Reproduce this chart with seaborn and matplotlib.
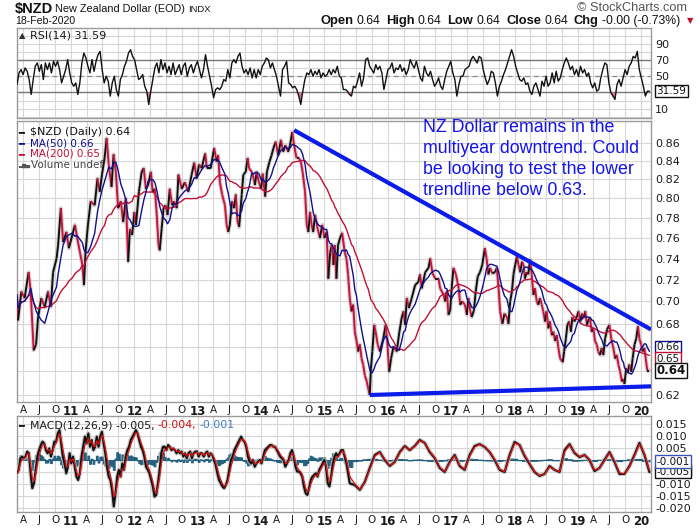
import numpy as np
import pandas as pd
import matplotlib
matplotlib.use("Agg")
import matplotlib.pyplot as plt
import matplotlib.dates as mdates
import matplotlib.ticker as mticker
from matplotlib.collections import LineCollection
from matplotlib.patches import Rectangle
import seaborn as sns

sns.set_theme(style="white")
plt.rcParams["font.family"] = ["DejaVu Sans"]

# ---------------- data ----------------
price_dates = [
    "2010-02-23", "2010-03-01", "2010-03-20", "2010-04-08", "2010-05-01", "2010-05-13", "2010-05-30", "2010-06-13", "2010-06-24", "2010-07-13",
    "2010-08-02", "2010-08-21", "2010-09-06", "2010-09-19", "2010-10-09", "2010-10-18", "2010-11-03", "2010-11-16", "2010-12-05", "2010-12-19",
    "2011-01-08", "2011-01-23", "2011-02-04", "2011-02-21", "2011-03-07", "2011-03-16", "2011-03-25", "2011-04-08", "2011-04-24", "2011-05-17",
    "2011-06-02", "2011-06-15", "2011-06-28", "2011-07-13", "2011-07-25", "2011-08-06", "2011-08-22", "2011-09-03", "2011-09-16", "2011-09-29",
    "2011-10-15", "2011-10-28", "2011-11-13", "2011-11-26", "2011-12-06", "2011-12-19", "2012-01-01", "2012-01-10", "2012-01-27", "2012-02-12",
    "2012-02-24", "2012-03-07", "2012-03-20", "2012-04-05", "2012-04-15", "2012-04-28", "2012-05-09", "2012-05-19", "2012-05-26", "2012-06-06",
    "2012-06-17", "2012-06-29", "2012-07-10", "2012-07-23", "2012-08-05", "2012-08-18", "2012-09-01", "2012-09-11", "2012-09-30", "2012-10-18",
    "2012-11-07", "2012-11-26", "2012-12-11", "2012-12-25", "2013-01-08", "2013-01-23", "2013-02-12", "2013-02-22", "2013-03-16", "2013-04-05",
    "2013-04-19", "2013-04-28", "2013-05-08", "2013-05-21", "2013-06-06", "2013-06-16", "2013-06-25", "2013-07-04", "2013-07-17", "2013-07-29",
    "2013-08-08", "2013-08-18", "2013-08-27", "2013-09-11", "2013-09-20", "2013-10-04", "2013-10-15", "2013-10-23", "2013-11-08", "2013-11-19",
    "2013-11-26", "2013-12-06", "2013-12-19", "2014-01-01", "2014-01-10", "2014-01-24", "2014-02-03", "2014-02-18", "2014-03-02", "2014-03-13",
    "2014-03-26", "2014-04-09", "2014-04-25", "2014-05-08", "2014-05-21", "2014-06-06", "2014-06-16", "2014-06-29", "2014-07-10", "2014-07-24",
    "2014-08-07", "2014-08-18", "2014-08-28", "2014-09-11", "2014-09-21", "2014-09-30", "2014-10-10", "2014-10-19", "2014-10-28", "2014-11-08",
    "2014-11-23", "2014-12-06", "2014-12-19", "2015-01-01", "2015-01-14", "2015-01-23", "2015-02-03", "2015-02-12", "2015-02-22", "2015-03-02",
    "2015-03-11", "2015-03-20", "2015-04-01", "2015-04-13", "2015-04-28", "2015-05-08", "2015-05-17", "2015-05-27", "2015-06-06", "2015-06-16",
    "2015-06-25", "2015-07-05", "2015-07-14", "2015-07-24", "2015-08-03", "2015-08-12", "2015-08-22", "2015-09-02", "2015-09-11", "2015-09-19",
    "2015-09-26", "2015-10-04", "2015-10-15", "2015-10-23", "2015-11-04", "2015-11-17", "2015-12-06", "2015-12-20", "2015-12-29", "2016-01-09",
    "2016-01-20", "2016-02-03", "2016-02-22", "2016-03-07", "2016-03-21", "2016-04-01", "2016-04-10", "2016-04-20", "2016-05-02", "2016-05-18",
    "2016-06-07", "2016-06-26", "2016-07-05", "2016-07-15", "2016-08-04", "2016-08-23", "2016-09-02", "2016-09-15", "2016-10-01", "2016-10-20",
    "2016-10-29", "2016-11-18", "2016-11-27", "2016-12-07", "2016-12-16", "2016-12-26", "2017-01-05", "2017-01-14", "2017-01-28", "2017-02-13",
    "2017-02-22", "2017-03-05", "2017-03-21", "2017-04-01", "2017-04-10", "2017-04-20", "2017-04-29", "2017-05-12", "2017-05-22", "2017-06-03",
    "2017-06-16", "2017-06-29", "2017-07-14", "2017-07-24", "2017-08-03", "2017-08-13", "2017-08-26", "2017-09-11", "2017-09-21", "2017-10-01",
    "2017-10-10", "2017-10-23", "2017-11-04", "2017-11-18", "2017-11-27", "2017-12-07", "2017-12-17", "2017-12-26", "2018-01-05", "2018-01-15",
    "2018-01-24", "2018-02-03", "2018-02-13", "2018-02-22", "2018-03-02", "2018-03-12", "2018-03-21", "2018-04-01", "2018-04-10", "2018-04-20",
    "2018-04-29", "2018-05-09", "2018-05-18", "2018-05-28", "2018-06-07", "2018-06-16", "2018-06-26", "2018-07-05", "2018-07-15", "2018-07-24",
    "2018-08-04", "2018-08-13", "2018-08-23", "2018-09-02", "2018-09-11", "2018-09-21", "2018-10-06", "2018-10-14", "2018-10-24", "2018-11-02",
    "2018-11-12", "2018-11-22", "2018-12-01", "2018-12-12", "2018-12-26", "2019-01-05", "2019-01-15", "2019-01-25", "2019-02-03", "2019-02-13",
    "2019-02-23", "2019-03-02", "2019-03-12", "2019-03-22", "2019-04-01", "2019-04-10", "2019-04-20", "2019-04-29", "2019-05-09", "2019-05-19",
    "2019-05-28", "2019-06-07", "2019-06-19", "2019-07-02", "2019-07-15", "2019-07-25", "2019-08-04", "2019-08-14", "2019-08-23", "2019-09-02",
    "2019-09-12", "2019-09-21", "2019-09-27", "2019-10-07", "2019-10-16", "2019-10-25", "2019-11-05", "2019-11-13", "2019-11-24", "2019-12-04",
    "2019-12-14", "2019-12-22", "2020-01-01", "2020-01-10", "2020-01-20", "2020-01-30", "2020-02-06", "2020-02-18",
]
price_values = [
    0.706, 0.683, 0.709, 0.703, 0.727, 0.709, 0.657, 0.662, 0.685, 0.703,
    0.695, 0.709, 0.695, 0.727, 0.740, 0.753, 0.790, 0.756, 0.766, 0.750,
    0.763, 0.773, 0.761, 0.746, 0.734, 0.715, 0.746, 0.773, 0.797, 0.793,
    0.821, 0.807, 0.825, 0.843, 0.865, 0.836, 0.812, 0.847, 0.828, 0.790,
    0.797, 0.776, 0.800, 0.737, 0.769, 0.763, 0.786, 0.773, 0.807, 0.828,
    0.832, 0.810, 0.814, 0.828, 0.807, 0.810, 0.783, 0.753, 0.748, 0.769,
    0.790, 0.793, 0.783, 0.810, 0.793, 0.797, 0.790, 0.825, 0.810, 0.817,
    0.807, 0.825, 0.838, 0.821, 0.836, 0.832, 0.848, 0.832, 0.832, 0.854,
    0.839, 0.846, 0.817, 0.804, 0.793, 0.773, 0.766, 0.773, 0.797, 0.790,
    0.804, 0.776, 0.771, 0.804, 0.825, 0.828, 0.843, 0.832, 0.828, 0.821,
    0.814, 0.828, 0.817, 0.810, 0.826, 0.802, 0.828, 0.839, 0.846, 0.854,
    0.861, 0.846, 0.863, 0.850, 0.857, 0.850, 0.857, 0.872, 0.857, 0.843,
    0.843, 0.839, 0.828, 0.807, 0.773, 0.766, 0.786, 0.773, 0.766, 0.783,
    0.769, 0.760, 0.773, 0.760, 0.766, 0.721, 0.746, 0.753, 0.734, 0.753,
    0.721, 0.753, 0.760, 0.765, 0.746, 0.740, 0.725, 0.703, 0.691, 0.697,
    0.673, 0.665, 0.656, 0.662, 0.650, 0.645, 0.636, 0.631, 0.625, 0.620,
    0.642, 0.656, 0.679, 0.673, 0.662, 0.656, 0.667, 0.679, 0.665, 0.639,
    0.650, 0.660, 0.656, 0.672, 0.685, 0.691, 0.679, 0.703, 0.694, 0.703,
    0.715, 0.718, 0.725, 0.712, 0.727, 0.731, 0.740, 0.726, 0.721, 0.721,
    0.712, 0.706, 0.700, 0.709, 0.688, 0.692, 0.715, 0.731, 0.725, 0.712,
    0.697, 0.700, 0.697, 0.688, 0.703, 0.692, 0.686, 0.692, 0.709, 0.723,
    0.727, 0.734, 0.750, 0.740, 0.725, 0.731, 0.726, 0.727, 0.731, 0.712,
    0.691, 0.680, 0.689, 0.686, 0.680, 0.700, 0.709, 0.725, 0.734, 0.742,
    0.734, 0.727, 0.737, 0.734, 0.721, 0.727, 0.725, 0.739, 0.725, 0.706,
    0.712, 0.700, 0.697, 0.703, 0.697, 0.691, 0.682, 0.691, 0.676, 0.682,
    0.670, 0.673, 0.665, 0.670, 0.659, 0.650, 0.647, 0.656, 0.667, 0.679,
    0.682, 0.673, 0.686, 0.682, 0.686, 0.691, 0.682, 0.689, 0.685, 0.691,
    0.679, 0.683, 0.685, 0.673, 0.676, 0.665, 0.662, 0.656, 0.653, 0.659,
    0.653, 0.667, 0.675, 0.679, 0.665, 0.659, 0.650, 0.653, 0.645, 0.639,
    0.631, 0.633, 0.629, 0.642, 0.638, 0.645, 0.639, 0.650, 0.662, 0.667,
    0.678, 0.667, 0.662, 0.656, 0.659, 0.647, 0.640, 0.640,
]

rsi_values = [
    39.8, 54.1, 58.2, 52.0, 60.2, 56.1, 45.9, 27.5, 45.9, 62.3, 66.4, 56.1, 64.3, 45.9, 66.4, 58.2, 66.4, 54.1,
    68.4, 62.3, 68.4, 58.2, 41.8, 50.0, 58.2, 70.5, 54.1, 41.8, 37.7, 41.8, 27.5, 41.8, 66.4, 78.6, 72.5, 62.3,
    54.1, 70.5, 56.1, 68.4, 76.6, 80.7, 58.2, 41.8, 50.0, 43.9, 25.5, 41.8, 50.0, 33.6, 25.5, 45.9, 52.0, 62.3,
    68.4, 78.6, 82.7, 74.5, 70.5, 58.2, 45.9, 48.0, 52.0, 37.7, 31.6, 15.2, 31.6, 45.9, 60.2, 66.4, 54.1, 70.5,
    58.2, 66.4, 54.1, 62.3, 52.0, 66.4, 52.0, 58.2, 64.3, 52.0, 62.3, 66.4, 50.0, 60.2, 64.3, 54.1, 62.3, 68.4,
    58.2, 48.0, 58.2, 76.6, 62.3, 50.0, 37.7, 23.4, 33.6, 35.7, 33.6, 37.7, 45.9, 43.9, 58.2, 48.0, 66.4, 70.5,
    66.4, 74.5, 78.6, 62.3, 54.1, 58.2, 52.0, 60.2, 48.0, 58.2, 48.0, 58.2, 52.0, 62.3, 66.4, 72.5, 70.5, 60.2,
    66.4, 58.2, 50.0, 37.7, 25.5, 58.2, 62.3, 68.4, 41.8, 39.8, 35.7, 37.7, 33.6, 25.5, 15.2, 31.6, 45.9, 54.1,
    52.0, 58.2, 50.0, 56.1, 52.0, 58.2, 48.0, 54.1, 50.0, 52.0, 58.2, 52.0, 58.2, 54.1, 62.3, 50.0, 48.0, 33.6,
    33.6, 31.6, 27.5, 25.5, 37.7, 35.7, 43.9, 54.1, 37.7, 48.0, 70.5, 72.5, 62.3, 58.2, 54.1, 64.3, 58.2, 62.3,
    54.1, 33.6, 45.9, 58.2, 60.2, 66.4, 54.1, 60.2, 58.2, 64.3, 56.1, 60.2, 52.0, 58.2, 70.5, 64.3, 60.2, 68.4,
    58.2, 48.0, 43.9, 62.3, 54.1, 50.0, 56.1, 45.9, 37.7, 41.8, 48.0, 37.7, 33.6, 45.9, 56.1, 62.3, 68.4, 54.1,
    45.9, 25.5, 39.8, 50.0, 50.0, 58.2, 60.2, 62.3, 70.5, 74.5, 70.5, 66.4, 74.5, 72.5, 58.2, 48.0, 39.8, 45.9,
    56.1, 54.1, 41.8, 25.5, 37.7, 43.9, 52.0, 58.2, 66.4, 74.5, 82.7, 74.5, 62.3, 54.1, 45.9, 43.9, 48.0, 39.8,
    41.8, 31.6, 27.5, 37.7, 41.8, 33.6, 25.5, 43.9, 37.7, 50.0, 37.7, 41.8, 54.1, 41.8, 56.1, 43.9, 48.0, 58.2,
    66.4, 72.5, 66.4, 58.2, 62.3, 52.0, 58.2, 50.0, 62.3, 54.1, 58.2, 50.0, 54.1, 41.8, 35.7, 41.8, 31.6, 33.6,
    48.0, 58.2, 66.4, 64.3, 41.8, 29.6, 25.5, 21.4, 39.8, 45.9, 37.7, 48.0, 58.2, 52.0, 62.3, 66.4, 74.5, 72.5,
    80.7, 58.2, 48.0, 37.7, 25.5, 31.6, 31.59,
]

macd_values_a = [
    -0.0055, -0.0041, 0.0007, 0.0014, 0.0007, 0.0014, 0.0035, 0.0028, -0.0055, -0.0117,
    -0.0097, -0.0041, 0.0014, 0.0041, 0.0062, 0.0076, 0.0069, 0.0041, 0.0028, 0.0048,
    0.0014, 0.0041, 0.0076, 0.0076, 0.0110, 0.0124, 0.0069, 0.0014, -0.0014, -0.0055,
    -0.0028, 0.0028, -0.0014, 0.0014, -0.0028, -0.0069, -0.0083, -0.0055, 0.0014, 0.0055,
    0.0097, 0.0069, 0.0110, 0.0055, 0.0083, 0.0041, 0.0055, 0.0097, 0.0055, 0.0097,
    0.0117, 0.0069, 0.0028, -0.0028, -0.0069, -0.0083, -0.0124, -0.0193, -0.0138, -0.0069,
    -0.0041, -0.0069, -0.0014, -0.0041, 0.0014, 0.0041, 0.0055, 0.0083, 0.0097, 0.0110,
    0.0124, 0.0110, 0.0083, 0.0055, 0.0041, 0.0014, -0.0028, -0.0041, -0.0055, -0.0083,
    -0.0110, -0.0152, -0.0145, -0.0097, -0.0041, 0.0028, 0.0055, 0.0055, 0.0041, 0.0062,
    0.0055, 0.0041, 0.0048, 0.0041, 0.0028, 0.0041, 0.0028, 0.0035, 0.0014, 0.0028,
    0.0007, 0.0028, 0.0035, 0.0007, 0.0028, 0.0035, 0.0035, 0.0014, 0.0028, 0.0028,
    0.0014, 0.0028, 0.0035, 0.0014, 0.0028, 0.0021, 0.0000, -0.0021, -0.0055, -0.0083,
    -0.0097, -0.0110, -0.0117, -0.0104, -0.0083, -0.0041, 0.0000, 0.0014, 0.0041, 0.0055,
    0.0069, 0.0083, 0.0097, 0.0083, 0.0076, 0.0055, 0.0014, -0.0007, -0.0014, 0.0000,
    -0.0028, -0.0014, -0.0007, 0.0000, -0.0014, 0.0014, 0.0041, 0.0048, 0.0055, 0.0062,
    0.0062, 0.0055, 0.0055, 0.0041, 0.0028, 0.0014, 0.0007, 0.0000, -0.0028, -0.0014,
    0.0000, 0.0028, 0.0041, 0.0014, -0.0028, -0.0048, -0.0048, -0.0055, -0.0069, -0.0110,
    -0.0138, -0.0145, -0.0117, -0.0083, -0.0069, -0.0062, -0.0055, -0.0069, -0.0041, -0.0028,
    -0.0014, 0.0000, -0.0028, -0.0097, -0.0110, -0.0069, -0.0014, 0.0014, 0.0028, 0.0014,
    0.0028, 0.0041, 0.0041, 0.0014, -0.0014, -0.0055, -0.0097,
]
macd_values_b = [
    -0.0104, -0.0124, -0.0091, -0.0033, 0.0021, 0.0033, 0.0000, -0.0025, -0.0008, 0.0033,
    0.0058, 0.0041, 0.0058, 0.0083, 0.0071, 0.0033, 0.0008, -0.0033, -0.0050, -0.0008,
    0.0021, -0.0025, -0.0041, 0.0021, 0.0058, 0.0066, 0.0054, 0.0033, 0.0000, -0.0041,
    -0.0050, 0.0021, 0.0075, 0.0062, 0.0017, -0.0017, -0.0050, -0.0066, -0.0058, -0.0025,
    -0.0041, -0.0050, 0.0041, 0.0066, 0.0029, 0.0012, 0.0021, 0.0000, -0.0046, -0.0033,
    0.0000, 0.0033, -0.0008, -0.0058, -0.0058, -0.0025, 0.0021, 0.0071, 0.0021, -0.0050,
]

upper_trend_dates = ["2014-07-10", "2020-02-27"]
upper_trend_values = [0.874, 0.675]
lower_trend_dates = ["2015-09-20", "2020-02-27"]
lower_trend_values = [0.620, 0.627]

legend_close, legend_ma50, legend_ma200 = "0.64", "0.66", "0.65"
rsi_last = "31.59"
macd_last, signal_last, hist_last = "-0.005", "-0.004", "-0.001"
header_vals = [("Open", "0.64"), ("High", "0.64"), ("Low", "0.64"), ("Close", "0.64"),
               ("Chg", "-0.00 (-0.73%)")]

quarter_letters = {1: None, 4: "A", 7: "J", 10: "O"}

# ---------------- derived series ----------------
price = pd.Series(price_values, index=pd.to_datetime(price_dates))
ma50 = price.rolling("70D", min_periods=1).mean()
ma200 = price.rolling("280D", min_periods=1).mean()

start, end = pd.Timestamp("2010-02-23"), pd.Timestamp("2020-02-18")
rsi = pd.Series(rsi_values, index=pd.date_range(start, end, periods=len(rsi_values)))
macd_idx = pd.date_range(start, "2015-05-27", periods=len(macd_values_a)).append(
    pd.date_range("2015-06-25", end, periods=len(macd_values_b)))
macd = pd.Series(macd_values_a + macd_values_b, index=macd_idx)
signal = macd.ewm(halflife="8D", times=macd.index).mean()
hist = macd - signal

# ---------------- figure ----------------
W, H = 700, 530
fig = plt.figure(figsize=(7, 5.3), dpi=100)
fig.patch.set_facecolor("white")
renderer = fig.canvas.get_renderer()

def fx(x):
    return x / W

def fy(y):
    return 1 - y / H

L, R = 17, 651
ax_r = fig.add_axes([fx(L), fy(118), (R - L) / W, 90 / H])
ax_p = fig.add_axes([fx(L), fy(402), (R - L) / W, 281 / H])
ax_m = fig.add_axes([fx(L), fy(512), (R - L) / W, 96 / H])

xmin, xmax = pd.Timestamp("2010-02-23"), pd.Timestamp("2020-02-27")
quarters = pd.date_range("2010-04-01", "2020-01-01", freq="QS")
qlabels = [f"{d.year % 100:02d}" if d.month == 1 else quarter_letters[d.month] for d in quarters]

grid_c = "#d6d6d6"
spine_c = "#9a9a9a"
txt_c = "#1a1a1a"

for ax in (ax_r, ax_p, ax_m):
    ax.set_facecolor("white")
    ax.set_xlim(xmin, xmax)
    ax.set_xticks(quarters)
    ax.grid(True, which="both", color=grid_c, lw=0.8)
    ax.set_axisbelow(True)
    for s in ax.spines.values():
        s.set_color(spine_c)
        s.set_linewidth(1.0)
    ax.yaxis.tick_right()
    ax.tick_params(axis="both", which="both", length=0, labelsize=8, colors=txt_c)
    ax.tick_params(axis="y", pad=3)
    ax.tick_params(axis="x", pad=2, labelsize=7.5)

for ax in (ax_p, ax_m):
    ax.set_xticklabels(qlabels)
    for lbl in ax.get_xticklabels():
        if lbl.get_text().isdigit():
            lbl.set_fontweight("bold")
            lbl.set_fontsize(8.5)
ax_r.set_xticklabels([])

# ---------------- RSI ----------------
ax_r.set_ylim(-1.5, 109.5)
ax_r.set_yticks([10, 30, 50, 70, 90])
ax_r.set_yticklabels(["10", "", "50", "70", "90"])
ax_r.yaxis.set_minor_locator(mticker.FixedLocator([0, 20, 40, 60, 80, 100]))
ax_r.axhline(70, color="#7a7a7a", lw=1.0, zorder=1)
ax_r.axhline(30, color="#7a7a7a", lw=1.0, zorder=1)
ax_r.axhline(50, color="#8a8a8a", lw=0.9, ls=(0, (4, 3)), zorder=1)
ax_r.fill_between(rsi.index, rsi.values, 30, where=rsi.values < 30, interpolate=True,
                  color="#e0708c", lw=0, zorder=2)
sns.lineplot(x=rsi.index, y=rsi.values, ax=ax_r, color="#111111", lw=1.0, estimator=None, zorder=3)
ax_r.set_xlabel("")
fig.text(fx(19), fy(36), "\u25b2", fontsize=6, color="#333", va="center", ha="left")
fig.text(fx(30), fy(36), f"RSI(14) {rsi_last}", fontsize=8, color=txt_c, va="center", ha="left")

# ---------------- price ----------------
ax_p.set_yscale("log")
pticks = [0.62, 0.64, 0.66, 0.68, 0.70, 0.72, 0.74, 0.76, 0.78, 0.80, 0.82, 0.84, 0.86]
hidden = {legend_close, legend_ma50, legend_ma200}
ax_p.yaxis.set_major_locator(mticker.FixedLocator(pticks))
ax_p.yaxis.set_minor_locator(mticker.NullLocator())
ax_p.yaxis.set_major_formatter(mticker.FuncFormatter(
    lambda v, p: "" if f"{v:.2f}" in hidden else f"{v:.2f}"))

sns.lineplot(x=price.index, y=price.values, ax=ax_p, color="#b8b8b8", lw=3.0, alpha=0.6,
             estimator=None, zorder=2)
xs = mdates.date2num(price.index.to_pydatetime())
vs = np.asarray(price.values)
segs = np.stack([np.column_stack([xs[:-1], vs[:-1]]), np.column_stack([xs[1:], vs[1:]])], axis=1)
cols = np.where(np.diff(vs) >= 0, "#111111", "#d0103c")
ax_p.add_collection(LineCollection(segs, colors=cols, linewidths=1.4, zorder=3))
sns.lineplot(x=ma200.index, y=ma200.values, ax=ax_p, color="#c01038", lw=1.0, estimator=None, zorder=4)
sns.lineplot(x=ma50.index, y=ma50.values, ax=ax_p, color="#10108c", lw=1.0, estimator=None, zorder=5)
ax_p.set_xlabel("")
ax_p.set_ylim(0.6144, 0.8845)

trend_c = "#0b1be8"
ax_p.plot(pd.to_datetime(upper_trend_dates), upper_trend_values, color=trend_c, lw=3.0,
          solid_capstyle="butt", zorder=6)
ax_p.plot(pd.to_datetime(lower_trend_dates), lower_trend_values, color=trend_c, lw=3.0,
          solid_capstyle="butt", zorder=6)

leg_items = [
    ("#111111", f"$NZD (Daily) {legend_close}", 8),
    ("#10108c", f"MA(50) {legend_ma50}", 7.5),
    ("#c01038", f"MA(200) {legend_ma200}", 7.5),
]
for i, (c, t, fs) in enumerate(leg_items):
    yy = 132 + i * 11
    fig.text(fx(18), fy(yy), "\u2501", color=c, fontsize=7, va="center", ha="left")
    fig.text(fx(30), fy(yy), t, color=c, fontsize=fs, va="center", ha="left")
fig.text(fx(18.5), fy(165), "\u2583\u2587\u2585", color="#555", fontsize=3.8, va="center", ha="left")
fig.text(fx(31), fy(165), "Volume undef", color="#444", fontsize=7.5, va="center", ha="left")

fig.text(fx(423), fy(119.5),
         "NZ Dollar remains in the\nmultiyear downtrend. Could\nbe looking to test the lower\ntrendline below 0.63.",
         family=["Liberation Sans", "DejaVu Sans"], fontsize=12.8, color="#1212ee",
         va="top", ha="left", linespacing=1.30)

def tag(ax, yv, text, ec, fs=7.5, bold=False):
    ax.annotate(text, xy=(1, yv), xycoords=ax.get_yaxis_transform(), xytext=(4, 0),
                textcoords="offset points", ha="left", va="center", fontsize=fs,
                fontweight="bold" if bold else "normal", color="#111",
                bbox=dict(boxstyle="square,pad=0.12", fc="white", ec=ec, lw=1.0),
                annotation_clip=False, zorder=20)

tag(ax_p, float(legend_ma50), legend_ma50, "#10108c")
tag(ax_p, float(legend_ma200), legend_ma200, "#c01038")
tag(ax_p, float(legend_close), legend_close, "#111111", fs=8.5, bold=True)
tag(ax_r, float(rsi_last), rsi_last, "#111111")

# ---------------- MACD ----------------
mticks = [-0.020, -0.015, -0.010, -0.005, 0.0, 0.005, 0.010, 0.015]
ax_m.yaxis.set_major_locator(mticker.FixedLocator(mticks))
ax_m.yaxis.set_major_formatter(mticker.FuncFormatter(
    lambda v, p: "" if abs(v) < 1e-9 or abs(v + 0.005) < 1e-9 else f"{v:.3f}"))
ax_m.fill_between(hist.index, 0, hist.values, color="#25617f", lw=0.8, edgecolor="#25617f",
                  step="mid", zorder=2)
sns.lineplot(x=macd.index, y=macd.values, ax=ax_m, color="#bdbdbd", lw=3.2, alpha=0.8,
             estimator=None, zorder=3)
sns.lineplot(x=macd.index, y=macd.values, ax=ax_m, color="#111111", lw=1.5, estimator=None, zorder=4)
sns.lineplot(x=signal.index, y=signal.values, ax=ax_m, color="#e01010", lw=0.9, estimator=None, zorder=5)
ax_m.set_xlabel("")
ax_m.set_ylim(-0.02158, 0.01826)

def flow(x, y, parts):
    """Place text pieces left to right, each after the previous one's measured width."""
    for t, fs, bold, color, gap, fam in parts:
        tx = fig.text(fx(x), fy(y), t, fontsize=fs, fontweight="bold" if bold else "normal",
                      color=color, va="center", ha="left", family=fam)
        x += tx.get_window_extent(renderer).width + gap
    return x

DJ = ["DejaVu Sans"]
LS = ["Liberation Sans", "DejaVu Sans"]
fig.text(fx(18), fy(425), "\u2501", color="#111", fontsize=7, va="center", ha="left")
flow(30, 425, [(f"MACD(12,26,9) {macd_last},", 7.8, False, txt_c, 3, DJ),
               (f"{signal_last},", 7.8, False, "#d01010", 3, DJ),
               (hist_last, 7.8, False, "#3a7fc0", 0, DJ)])

# red signal tag hidden behind the MACD tag
ax_m.add_patch(Rectangle((1 + 5 / 634, float(signal_last) - 0.0024), 35 / 634, 0.0048,
                         transform=ax_m.get_yaxis_transform(), fc="white", ec="#d01010",
                         lw=1.0, clip_on=False, zorder=19))
tag(ax_m, float(macd_last), macd_last, "#111111", fs=7.5)
tag(ax_m, float(hist_last) + 0.0003, hist_last, "#3a55b0", fs=7.5)

# ---------------- header ----------------
flow(15, 9, [("$NZD", 10.5, True, "#111", 2, LS), ("New Zealand Dollar (EOD)", 7.8, False, "#111", 3, LS),
             ("INDX", 6.8, False, "#111", 0, LS)])
fig.text(fx(15), fy(21), "18-Feb-2020", fontsize=7.6, color="#111", va="center", ha="left", family=LS)
fig.text(fx(687), fy(8), "\u00a9 StockCharts.com", fontsize=9.2, color="#555", va="center", ha="right",
         family=LS)

parts = []
for k, v in header_vals:
    parts.append((k, 9.3, True, "#111", 3, LS))
    parts.append((v, 8.8, False, "#111", 6, LS))
tmp = [fig.text(0, 0, t, fontsize=fs, fontweight="bold" if b else "normal", family=fam)
       for t, fs, b, c, g, fam in parts]
total = sum(t.get_window_extent(renderer).width for t in tmp) + sum(p[4] for p in parts[:-1])
for t in tmp:
    t.remove()
x_end = flow(680 - total, 21, parts)
fig.text(fx(x_end + 1), fy(21), "\u25bc", fontsize=6, color="#c01030", va="center", ha="left")

fig.savefig("out.png", dpi=100, facecolor="white")
